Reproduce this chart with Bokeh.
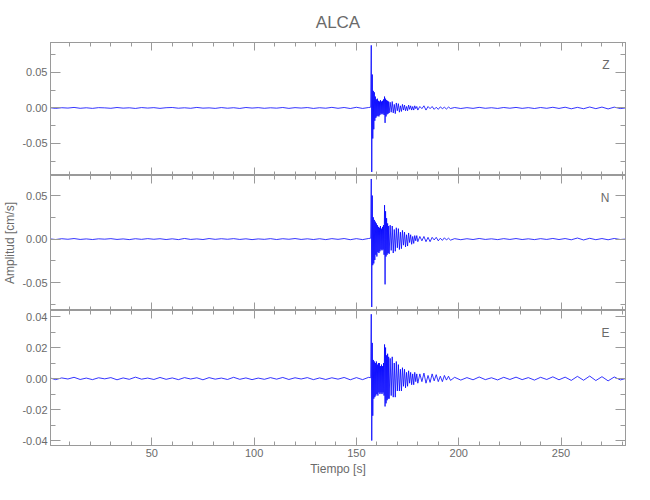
from bokeh.plotting import figure
from bokeh.models import (Range1d, LinearAxis, SingleIntervalTicker, FixedTicker,
                          NumeralTickFormatter, Label)
from bokeh.layouts import column
from bokeh.embed import file_html
from bokeh.resources import INLINE

# ---------------- data ----------------
TITLE = "ALCA"
X_LABEL = "Tiempo [s]"
Y_LABEL = "Amplitud [cm/s]"
COMPONENTS = ["Z", "N", "E"]

TIME = [
    0, 3, 6, 9, 12, 15, 18, 21, 24, 27, 30, 33, 36, 39, 42, 45, 48, 51, 54, 57,
    60, 63, 66, 69, 72, 75, 78, 81, 84, 87, 90, 93, 96, 99, 102, 105, 108, 111, 114, 117,
    120, 123, 126, 129, 132, 135, 138, 141, 144, 147, 150, 153, 156,
    157.0, 157.25, 157.5, 157.75, 158.0, 158.25, 158.5, 158.75, 159.0, 159.25, 159.5, 159.75,
    160.0, 160.25, 160.5, 160.75, 161.0, 161.25, 161.5, 161.75, 162.0, 162.25, 162.5, 162.75,
    163.0, 163.25, 163.5, 163.75, 164.0, 164.25, 164.5, 164.75, 165.0, 165.25, 165.5, 165.75, 166.0,
    166.5, 167, 167.5, 168, 168.5, 169, 169.5, 170, 170.5, 171, 171.5, 172, 172.5, 173, 173.5, 174,
    174.5, 175, 175.5, 176, 176.5, 177, 177.5, 178, 178.5, 179, 179.5, 180,
    181, 182, 183, 184, 185, 186, 187, 188, 189, 190, 191, 192, 193, 194, 195, 196,
    198, 201, 204, 207, 210, 213, 216, 219, 222, 225, 228, 231, 234, 237, 240, 243, 246, 249,
    252, 255, 258, 261, 264, 267, 270, 273, 276, 279,
    281.5,
]

AMP_Z = [
    0.0004, -0.0006, 0.0003, -0.0002, 0.0007, -0.0005, 0.0002, -0.0006, 0.0004, 0.0001,
    -0.0005, 0.0006, -0.0003, 0.0002, -0.0007, 0.0005, -0.0002, 0.0004, -0.0006, 0.0003,
    0.0006, -0.0004, 0.0002, -0.0005, 0.0007, -0.0003, 0.0001, -0.0006, 0.0005, -0.0004,
    0.0003, -0.0007, 0.0006, -0.0002, 0.0004, -0.0005, 0.0002, -0.0003, 0.0006, -0.0006,
    0.0004, -0.0002, 0.0005, -0.0007, 0.0003, -0.0004, 0.0008, -0.0005, 0.0006, -0.0008,
    0.0009, -0.0007, 0.0006,
    0.001, 0.088, -0.090, 0.047, -0.043, 0.024, -0.030, 0.022, -0.018, 0.016, -0.014, 0.012,
    -0.012, 0.013, -0.011, 0.010, -0.012, 0.009, -0.010, 0.011, -0.008, 0.009, -0.009, 0.010,
    -0.008, 0.012, -0.010, 0.016, -0.021, 0.013, -0.012, 0.011, -0.009, 0.010, -0.008, 0.009, -0.007,
    0.008, -0.006, 0.009, -0.007, 0.005, -0.008, 0.007, -0.004, 0.006, -0.006,
    0.003, -0.005, 0.005, -0.003, 0.004, -0.004, 0.002, -0.004, 0.004, -0.002,
    0.003, -0.003, 0.002, -0.003, 0.003, -0.001, 0.002, -0.003,
    0.002, -0.001, 0.003, -0.003, 0.002, -0.001, 0.002, -0.002, 0.001, -0.002, 0.0015, -0.001,
    0.001, -0.0015, 0.0012, -0.0008,
    0.0006, -0.0008, 0.0004, -0.0006, 0.0008, -0.0005, 0.0003, -0.0007, 0.0006, -0.0004,
    0.0007, -0.0006, 0.0004, -0.0008, 0.0006, -0.0005, 0.0009, -0.0007, 0.0010, -0.0012,
    0.0008, -0.0011, 0.0013, -0.0010, 0.0012, -0.0014, 0.0011, -0.0009,
    0.0,
]

AMP_N = [
    0.0003, -0.0005, 0.0004, -0.0002, 0.0006, -0.0004, 0.0002, -0.0005, 0.0003, -0.0001,
    0.0005, -0.0004, 0.0002, -0.0006, 0.0004, -0.0003, 0.0005, -0.0002, 0.0004, -0.0005,
    0.0003, -0.0006, 0.0007, -0.0004, 0.0002, -0.0005, 0.0006, -0.0003, 0.0004, -0.0002,
    0.0005, -0.0004, 0.0003, -0.0006, 0.0002, -0.0003, 0.0005, -0.0005, 0.0004, -0.0002,
    0.0006, -0.0004, 0.0003, -0.0005, 0.0004, -0.0006, 0.0005, -0.0003, 0.0006, -0.0007,
    0.0005, -0.0006, 0.0007,
    0.001, 0.069, -0.078, 0.050, -0.030, 0.025, -0.028, 0.022, -0.024, 0.020, -0.018, 0.018,
    -0.020, 0.016, -0.015, 0.014, -0.016, 0.013, -0.014, 0.015, -0.012, 0.012, -0.013, 0.014,
    -0.012, 0.016, -0.018, 0.039, -0.052, 0.032, -0.020, 0.024, -0.018, 0.018, -0.016, 0.015, -0.017,
    0.016, -0.013, 0.015, -0.016, 0.011, -0.014, 0.013, -0.010, 0.012, -0.012,
    0.008, -0.011, 0.010, -0.007, 0.008, -0.009, 0.005, -0.008, 0.007, -0.004,
    0.005, -0.006, 0.003, -0.005, 0.004, -0.002, 0.004, -0.003,
    0.003, -0.002, 0.003, -0.003, 0.002, -0.003, 0.002, -0.001, 0.002, -0.002, 0.001, -0.0015,
    0.0015, -0.001, 0.001, -0.0012,
    0.0005, -0.0007, 0.0004, -0.0005, 0.0007, -0.0004, 0.0003, -0.0006, 0.0005, -0.0004,
    0.0006, -0.0005, 0.0003, -0.0006, 0.0005, -0.0004, 0.0007, -0.0005, 0.0006, -0.0008,
    0.0012, -0.0010, 0.0009, -0.0007, 0.0006, -0.0008, 0.0007, -0.0005,
    0.0,
]

AMP_E = [
    0.0005, -0.0007, 0.0004, -0.0003, 0.0008, -0.0006, 0.0003, -0.0007, 0.0005, -0.0002,
    0.0006, -0.0008, 0.0004, -0.0005, 0.0009, -0.0004, 0.0003, -0.0006, 0.0007, -0.0005,
    0.0004, -0.0007, 0.0006, -0.0003, 0.0005, -0.0008, 0.0006, -0.0004, 0.0003, -0.0006,
    0.0008, -0.0005, 0.0004, -0.0007, 0.0003, -0.0005, 0.0006, -0.0004, 0.0007, -0.0006,
    0.0005, -0.0003, 0.0006, -0.0007, 0.0004, -0.0006, 0.0005, -0.0004, 0.0007, -0.0008,
    0.0006, -0.0007, 0.0008,
    0.0005, 0.0415, -0.040, 0.023, -0.024, 0.012, -0.013, 0.011, -0.012, 0.010, -0.011, 0.011,
    -0.010, 0.009, -0.011, 0.010, -0.009, 0.010, -0.010, 0.008, -0.009, 0.009, -0.010, 0.008,
    -0.009, 0.010, -0.011, 0.022, -0.018, 0.020, -0.016, 0.015, -0.014, 0.016, -0.013, 0.014, -0.013,
    0.013, -0.011, 0.014, -0.012, 0.010, -0.012, 0.011, -0.008, 0.009, -0.008,
    0.006, -0.008, 0.007, -0.005, 0.006, -0.006, 0.004, -0.005, 0.005, -0.003,
    0.004, -0.004, 0.003, -0.004, 0.004, -0.002, 0.003, -0.003,
    0.003, -0.002, 0.0035, -0.003, 0.002, -0.0025, 0.003, -0.0015, 0.0025, -0.002, 0.0015, -0.002,
    0.002, -0.001, 0.0015, -0.0012,
    0.0008, -0.0010, 0.0006, -0.0008, 0.0010, -0.0007, 0.0005, -0.0009, 0.0008, -0.0006,
    0.0009, -0.0007, 0.0006, -0.0010, 0.0008, -0.0006, 0.0011, -0.0008, 0.0009, -0.0012,
    0.0014, -0.0011, 0.0016, -0.0013, 0.0012, -0.0015, 0.0010, -0.0009,
    0.0,
]

AMPLITUDES = [AMP_Z, AMP_N, AMP_E]
X_LIMITS = (0.5, 281.5)
Y_LIMITS = [(-0.095, 0.092), (-0.082, 0.073), (-0.0432, 0.0439)]
Y_TICK_STEP = [0.05, 0.05, 0.02]
X_TICK_STEP = 50
X_MINOR_STEP = 10

# ---------------- styling ----------------
FONT = "Liberation Sans"
TEXT_COLOR = "#6a6a6a"
AXIS_COLOR = "#9a9a9a"
TRACE_COLOR = "#0000ff"
W = 648
LEFT, RIGHT = 47, 23


def tick_values(lo, hi, step):
    k0 = int(lo // step)
    vals = []
    k = k0
    while k * step <= hi + 1e-12:
        v = round(k * step, 6)
        if v >= lo:
            vals.append(v)
        k += 1
    return vals


def base_style(ax):
    ax.axis_line_color = AXIS_COLOR
    ax.major_tick_line_color = AXIS_COLOR
    ax.minor_tick_line_color = AXIS_COLOR
    ax.major_tick_out = 0
    ax.minor_tick_out = 0
    ax.major_label_text_font = FONT
    ax.major_label_text_color = TEXT_COLOR
    ax.major_label_text_font_size = "11px"
    ax.axis_label_text_font = FONT
    ax.axis_label_text_color = TEXT_COLOR
    ax.axis_label_text_font_style = "normal"
    ax.axis_label_text_font_size = "12px"


def labelled_axis(p, side, step, major_len, minor_len, fmt=None, label=None):
    ax = LinearAxis(ticker=SingleIntervalTicker(interval=step, num_minor_ticks=2 if side == "left" else 5))
    if fmt:
        ax.formatter = fmt
    base_style(ax)
    ax.major_tick_in = major_len
    ax.minor_tick_in = minor_len
    ax.major_label_standoff = 3
    ax.axis_label_standoff = 2
    if label:
        ax.axis_label = label
    p.add_layout(ax, side)


def bare_ticks(p, side, majors, minors, major_len, minor_len):
    # tick marks only (no labels), drawn inward
    for vals, ln in ((majors, major_len), (minors, minor_len)):
        ax = LinearAxis(ticker=FixedTicker(ticks=[], minor_ticks=vals))
        base_style(ax)
        ax.minor_tick_in = ln
        ax.major_tick_in = 0
        ax.major_label_standoff = 0
        ax.axis_label_standoff = 0
        p.add_layout(ax, side)


def make_panel(i, height, top, bottom, title=None, ylabel=None, xlabels=False):
    lo, hi = Y_LIMITS[i]
    p = figure(width=W, height=height, x_range=Range1d(*X_LIMITS), y_range=Range1d(lo, hi),
               x_axis_type=None, y_axis_type=None, output_backend="svg", toolbar_location=None,
               min_border_left=LEFT, min_border_right=RIGHT, min_border_top=top,
               min_border_bottom=bottom, title=title)
    p.outline_line_color = AXIS_COLOR
    p.background_fill_color = "white"
    p.border_fill_color = "white"
    if title:
        p.title.align = "center"
        p.title.text_font = FONT
        p.title.text_font_size = "17px"
        p.title.text_font_style = "normal"
        p.title.text_color = TEXT_COLOR
        p.title.standoff = 21

    ystep = Y_TICK_STEP[i]
    y_major = tick_values(lo, hi, ystep)
    y_minor = [v for v in tick_values(lo, hi, ystep / 2) if v not in y_major]
    x_major = tick_values(*X_LIMITS, X_TICK_STEP)
    x_minor = [v for v in tick_values(*X_LIMITS, X_MINOR_STEP) if v not in x_major]

    labelled_axis(p, "left", ystep, 10, 5, fmt=NumeralTickFormatter(format="0.00"), label=ylabel)
    bare_ticks(p, "right", y_major, y_minor, 10, 5)
    bare_ticks(p, "above", x_major, x_minor, 8, 4)
    if xlabels:
        labelled_axis(p, "below", X_TICK_STEP, 8, 4, label=X_LABEL)
    else:
        bare_ticks(p, "below", x_major, x_minor, 8, 4)

    p.line(TIME, AMPLITUDES[i], color=TRACE_COLOR, line_width=0.8)

    p.add_layout(Label(x=X_LIMITS[1], y=hi, x_offset=-16, y_offset=-15, text=COMPONENTS[i],
                       text_align="right", text_baseline="top", text_font=FONT,
                       text_font_size="12px", text_color=TEXT_COLOR))
    return p


p1 = make_panel(0, 175, 41, 0, title=TITLE)
p2 = make_panel(1, 135, 0, 0, ylabel=Y_LABEL)
p3 = make_panel(2, 180, 0, 45, xlabels=True)

layout = column(p1, p2, p3, spacing=0)
open("out.html", "w").write(file_html(layout, INLINE))
